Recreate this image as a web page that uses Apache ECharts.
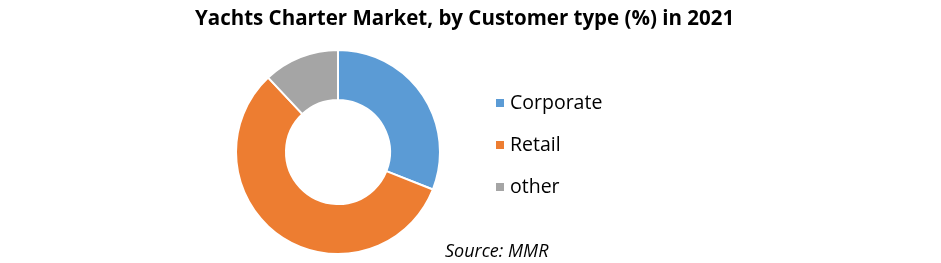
<!DOCTYPE html>
<html><head><meta charset="utf-8">
<script src="https://cdn.jsdelivr.net/npm/echarts@6/dist/echarts.min.js"></script>
<style>html,body{margin:0;padding:0;background:#fff}#c{width:941px;height:263px}</style>
</head><body><div id="c"></div>
<script>
const categories = ['Corporate', 'Retail', 'other'];
const values = [31, 57, 12];
const colors = ['#5b9bd5', '#ed7d31', '#a5a5a5'];
const titleText = 'Yachts Charter Market, by Customer type (%) in 2021';
const sourceText = 'Source: MMR';

const chart = echarts.init(document.getElementById('c'));
chart.setOption({
  animation: false,
  color: colors,
  title: [{
    text: titleText, left: 190, top: 4,
    textStyle: {fontFamily: 'Open Sans', fontWeight: 'bold', fontSize: 20.5, color: '#000'}
  }, {
    text: sourceText, left: 440, top: 238,
    textStyle: {fontFamily: 'Open Sans', fontStyle: 'italic', fontWeight: 'normal', fontSize: 18, color: '#000'}
  }],
  legend: {
    orient: 'vertical', left: 489, top: 88,
    itemWidth: 10, itemHeight: 10, itemGap: 22,
    icon: 'rect',
    textStyle: {fontFamily: 'Open Sans', fontSize: 19.5, color: '#000'},
    data: categories
  },
  series: [{
    type: 'pie',
    center: [338, 152], radius: [52, 102],
    startAngle: 90, clockwise: true,
    label: {show: false}, labelLine: {show: false},
    itemStyle: {borderColor: '#fff', borderWidth: 2},
    data: categories.map((n, i) => ({name: n, value: values[i]}))
  }]
});
</script></body></html>
